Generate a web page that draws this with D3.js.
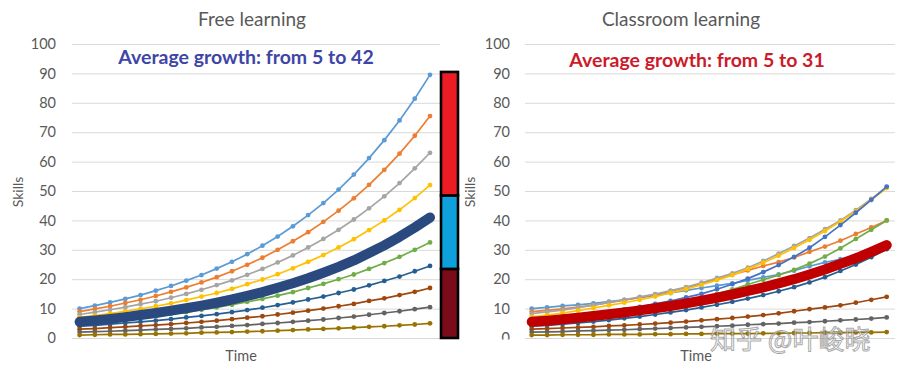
<!DOCTYPE html>
<html>
<head>
<meta charset="utf-8">
<script src="https://cdn.jsdelivr.net/npm/d3@7"></script>
<style>
	body { margin: 0; background: #fff; }
	svg { display: block; font-family: Lato, "Open Sans", sans-serif; }
</style>
</head>
<body>
<div id="chart"></div>
<script>
// Data
const steps = [1, 2, 3, 4, 5, 6, 7, 8, 9, 10, 11, 12, 13, 14, 15, 16, 17, 18, 19, 20, 21, 22, 23, 24];
const yTicks = [0, 10, 20, 30, 40, 50, 60, 70, 80, 90, 100];

const seriesColors = ['#5B9BD5', '#ED7D31', '#A5A5A5', '#FFC000', '#4472C4', '#70AD47', '#255E91', '#9E480E', '#636363', '#997300'];

const freeLearning = [
	[10, 11, 12.1, 13.3, 14.6, 16.1, 17.7, 19.5, 21.4, 23.6, 25.9, 28.5, 31.4, 34.5, 38.0, 41.8, 45.9, 50.5, 55.6, 61.2, 67.3, 74.0, 81.4, 89.5],
	[9, 9.9, 10.8, 11.9, 13.0, 14.3, 15.7, 17.2, 18.9, 20.7, 22.7, 24.9, 27.3, 30.0, 32.9, 36.0, 39.5, 43.3, 47.5, 52.1, 57.2, 62.7, 68.8, 75.5],
	[8, 8.8, 9.6, 10.5, 11.5, 12.5, 13.7, 15.0, 16.4, 18.0, 19.6, 21.5, 23.5, 25.7, 28.1, 30.8, 33.7, 36.8, 40.3, 44.1, 48.2, 52.7, 57.7, 63.0],
	[7, 7.6, 8.3, 9.1, 9.9, 10.8, 11.8, 12.9, 14.1, 15.3, 16.7, 18.3, 19.9, 21.7, 23.7, 25.9, 28.2, 30.8, 33.6, 36.7, 40.0, 43.6, 47.6, 52.0],
	[6, 6.5, 7.1, 7.7, 8.4, 9.1, 9.9, 10.7, 11.7, 12.7, 13.8, 15.0, 16.3, 17.7, 19.2, 20.9, 22.7, 24.6, 26.8, 29.1, 31.6, 34.3, 37.3, 40.5],
	[5, 5.4, 5.9, 6.4, 6.9, 7.5, 8.2, 8.8, 9.6, 10.4, 11.3, 12.3, 13.3, 14.4, 15.6, 17.0, 18.4, 20.0, 21.6, 23.5, 25.5, 27.6, 30.0, 32.5],
	[4, 4.3, 4.7, 5.1, 5.5, 5.9, 6.4, 7.0, 7.5, 8.1, 8.8, 9.5, 10.3, 11.2, 12.1, 13.1, 14.1, 15.3, 16.5, 17.9, 19.4, 20.9, 22.7, 24.5],
	[3, 3.2, 3.5, 3.8, 4.1, 4.4, 4.7, 5.1, 5.5, 5.9, 6.4, 6.9, 7.4, 8.0, 8.6, 9.3, 10.0, 10.8, 11.6, 12.6, 13.5, 14.6, 15.7, 17.0],
	[2, 2.2, 2.3, 2.5, 2.7, 2.9, 3.1, 3.3, 3.6, 3.8, 4.1, 4.4, 4.8, 5.1, 5.5, 5.9, 6.3, 6.8, 7.3, 7.9, 8.5, 9.1, 9.8, 10.5],
	[1, 1.1, 1.2, 1.2, 1.3, 1.4, 1.5, 1.6, 1.8, 1.9, 2.0, 2.2, 2.3, 2.5, 2.7, 2.9, 3.1, 3.3, 3.5, 3.8, 4.0, 4.3, 4.6, 5.0],
];
const freeAverage = [5.5, 6.0, 6.5, 7.1, 7.8, 8.5, 9.3, 10.1, 11.0, 12.0, 13.1, 14.3, 15.6, 17.1, 18.6, 20.3, 22.2, 24.2, 26.4, 28.9, 31.5, 34.4, 37.6, 41.0];

const classroomLearning = [
	[10, 10.4, 10.9, 11.3, 11.8, 12.4, 13.0, 13.7, 14.5, 15.3, 16.2, 17.0, 17.8, 18.6, 19.6, 20.6, 21.6, 22.9, 24.4, 25.7, 26.8, 28.0, 29.4, 31.0],
	[9, 9.4, 9.9, 10.5, 11.2, 12.0, 12.9, 13.8, 14.8, 15.9, 17.1, 18.5, 20.0, 21.5, 23.0, 24.5, 25.8, 27.4, 29.3, 31.1, 33.1, 35.4, 37.6, 40.0],
	[8.3, 8.9, 9.5, 10.3, 11.2, 12.1, 13.0, 14.0, 14.9, 16.1, 17.3, 18.8, 20.4, 22.0, 23.9, 26.2, 28.7, 31.3, 34.0, 37.0, 40.0, 43.5, 47.3, 51.3],
	[7.2, 7.8, 8.5, 9.3, 10.2, 11.1, 12.0, 13.0, 14.1, 15.3, 16.6, 18.1, 19.7, 21.4, 23.4, 25.6, 28.0, 30.6, 33.4, 36.4, 39.6, 43.1, 47.0, 51.0],
	[6.0, 6.4, 6.9, 7.5, 8.2, 8.9, 9.7, 10.6, 11.6, 12.6, 13.8, 15.0, 16.6, 18.3, 20.2, 22.4, 24.8, 27.6, 30.7, 34.4, 38.4, 42.6, 47.0, 51.5],
	[5.0, 5.4, 5.8, 6.4, 7.0, 7.7, 8.5, 9.4, 10.3, 11.3, 12.4, 13.6, 15.0, 16.5, 18.2, 19.8, 21.4, 23.2, 25.3, 27.7, 30.5, 33.7, 36.8, 40.0],
	[4.0, 4.3, 4.7, 5.1, 5.6, 6.1, 6.7, 7.3, 8.0, 8.7, 9.5, 10.4, 11.3, 12.3, 13.4, 14.6, 15.9, 17.3, 18.9, 20.7, 22.8, 25.0, 27.5, 30.2],
	[3.0, 3.2, 3.4, 3.6, 3.8, 4.1, 4.3, 4.6, 4.9, 5.2, 5.6, 6.0, 6.4, 6.8, 7.3, 7.8, 8.4, 9.1, 9.8, 10.4, 11.1, 12.0, 13.0, 14.0],
	[2.0, 2.1, 2.2, 2.4, 2.5, 2.7, 2.8, 3.0, 3.2, 3.4, 3.6, 3.8, 4.0, 4.2, 4.5, 4.7, 4.9, 5.2, 5.4, 5.7, 6.0, 6.3, 6.6, 7.0],
	[1.0, 1.0, 1.1, 1.1, 1.1, 1.2, 1.2, 1.2, 1.3, 1.3, 1.4, 1.4, 1.5, 1.5, 1.5, 1.6, 1.6, 1.7, 1.7, 1.8, 1.8, 1.9, 1.9, 2.0],
];
const classroomAverage = [5.5, 5.9, 6.4, 6.9, 7.5, 8.1, 8.7, 9.4, 10.1, 10.9, 11.8, 12.7, 13.7, 14.8, 16.0, 17.2, 18.6, 20.0, 21.6, 23.3, 25.2, 27.1, 29.3, 31.6];

// Skill tiers shown in the bar next to the left chart
const tierBreaks = [0, 23.5, 48.5, 90.5];
const tierColors = ['#7A0C1A', '#0EA0DD', '#ED1C24'];

// Attribute
const width = 900;
const height = 376;
const textColor = '#595959';

const svg = d3.select('#chart').append('svg')
	.attr('width', width)
	.attr('height', height)
	.attr('viewBox', [0, 0, width, height]);

const y = d3.scaleLinear().domain([0, 100]).range([338, 44]);

function drawPanel(p) {
	const g = svg.append('g');
	const x = d3.scalePoint().domain(steps).range(p.dataRange);

	// gridlines + tick labels
	const axis = g.append('g')
		.attr('transform', `translate(${p.left},0)`)
		.call(d3.axisLeft(y).tickValues(yTicks).tickSize(-(p.right - p.left)).tickPadding(p.left - p.labelRight));
	axis.select('.domain').remove();
	axis.selectAll('line').attr('stroke', '#D9D9D9');
	axis.selectAll('text')
		.attr('fill', textColor)
		.style('font-size', '14.5px')
		.style('font-family', 'Lato, sans-serif');
	if (p.clipLabels) {
		// the bottom label is cut off in the original
		const id = 'clip-' + p.key;
		axis.append('clipPath').attr('id', id)
			.append('rect').attr('x', -60).attr('y', 0).attr('width', p.right - p.left + 60).attr('height', 339.5);
		axis.attr('clip-path', `url(#${id})`);
	}

	const line = d3.line().x((d, i) => x(steps[i])).y((d) => y(d));

	p.series.forEach((s, k) => {
		const c = seriesColors[k];
		g.append('path')
			.datum(s)
			.attr('fill', 'none')
			.attr('stroke', c)
			.attr('stroke-width', 1.7)
			.attr('d', line);
		g.append('g')
			.attr('fill', c)
			.selectAll('circle')
			.data(s)
			.join('circle')
			.attr('cx', (d, i) => x(steps[i]))
			.attr('cy', (d) => y(d))
			.attr('r', 2.4);
	});

	// thick average line
	g.append('path')
		.datum(p.average)
		.attr('fill', 'none')
		.attr('stroke', p.avgLine)
		.attr('stroke-width', 10)
		.attr('stroke-linecap', 'round')
		.attr('stroke-linejoin', 'round')
		.attr('d', line);

	// titles
	g.append('text')
		.attr('x', p.titleX).attr('y', 26)
		.attr('text-anchor', 'middle')
		.attr('fill', textColor)
		.style('font-size', '19px')
		.text(p.title);
	g.append('text')
		.attr('x', p.noteX).attr('y', p.noteY)
		.attr('text-anchor', 'middle')
		.attr('fill', p.noteColor)
		.style('font-size', '19.5px')
		.style('font-weight', 'bold')
		.text(p.note);
	g.append('text')
		.attr('transform', `translate(${p.skillsX},192) rotate(-90)`)
		.attr('text-anchor', 'middle')
		.attr('fill', textColor)
		.style('font-size', '14px')
		.text('Skills');
	g.append('text')
		.attr('x', p.timeX).attr('y', 361)
		.attr('text-anchor', 'middle')
		.attr('fill', textColor)
		.style('font-size', '14.5px')
		.text('Time');
}

drawPanel({
	key: 'free',
	left: 72, right: 440, labelRight: 56,
	dataRange: [79.6, 430],
	series: freeLearning,
	average: freeAverage,
	avgLine: '#2A4A7F',
	title: 'Free learning', titleX: 252,
	note: 'Average growth: from 5 to 42', noteX: 246, noteY: 64, noteColor: '#3D46A6',
	skillsX: 23, timeX: 241,
});

drawPanel({
	key: 'class',
	left: 525, right: 895, labelRight: 510, clipLabels: true,
	dataRange: [531.7, 886.7],
	series: classroomLearning,
	average: classroomAverage,
	avgLine: '#C00000',
	title: 'Classroom learning', titleX: 681,
	note: 'Average growth: from 5 to 31', noteX: 697, noteY: 67, noteColor: '#CC1B2B',
	skillsX: 475, timeX: 696,
});

// tier bar
svg.append('g')
	.selectAll('rect')
	.data(tierColors)
	.join('rect')
	.attr('x', 441)
	.attr('width', 17)
	.attr('y', (d, i) => y(tierBreaks[i + 1]))
	.attr('height', (d, i) => y(tierBreaks[i]) - y(tierBreaks[i + 1]))
	.attr('fill', (d) => d)
	.attr('stroke', '#000')
	.attr('stroke-width', 2.6);

// watermark
svg.append('text')
	.attr('x', 710).attr('y', 349)
	.attr('fill', 'rgba(255,255,255,0.55)')
	.attr('stroke', 'rgba(110,110,110,0.6)')
	.attr('stroke-width', 1)
	.style('font-family', '"Noto Sans CJK SC", sans-serif')
	.style('font-size', '26px')
	.text('知乎 @叶峻晓');
</script>
</body>
</html>
